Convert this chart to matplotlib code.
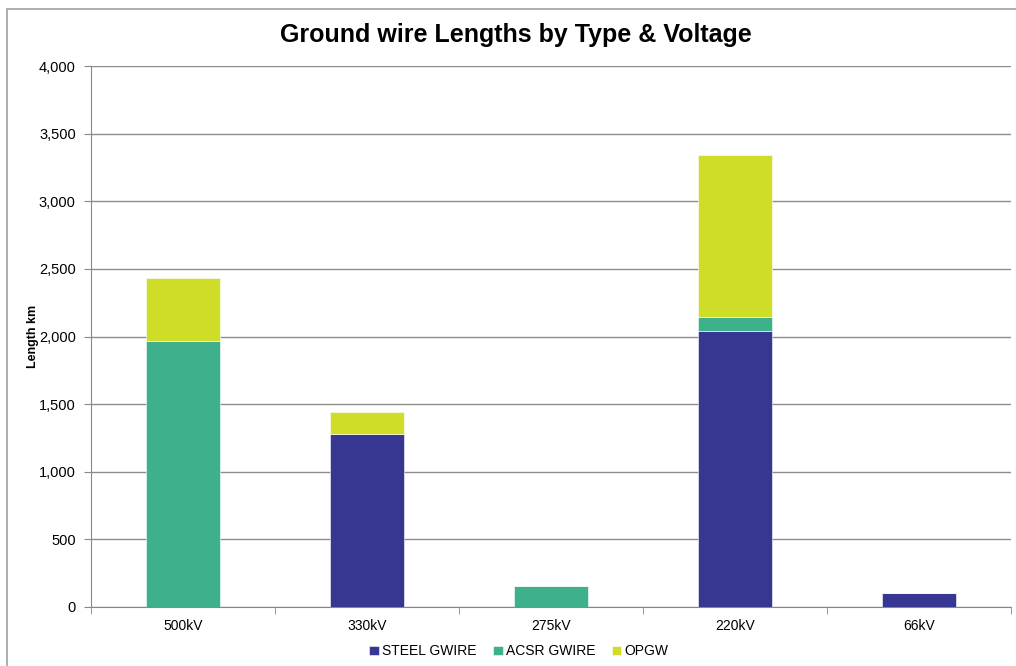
import matplotlib.pyplot as plt
import numpy as np
from matplotlib.patches import Rectangle

plt.rcParams['font.family'] = ['Liberation Sans', 'DejaVu Sans']

# データ
voltages = ["500kV", "330kV", "275kV", "220kV", "66kV"]
steel_gwire = [0, 1277, 0, 2043, 106]
acsr_gwire = [1969, 0, 157, 102, 0]
opgw = [464, 163, 0, 1197, 0]

series_names = ["STEEL GWIRE", "ACSR GWIRE", "OPGW"]
colors = ["#373793", "#3eb08c", "#cfdc28"]

fig = plt.figure(figsize=(10.16, 6.66), dpi=100)
ax = fig.add_axes([91 / 1016, 1 - 607 / 666, 920 / 1016, 541 / 666])

# 外枠
fig.patches.append(Rectangle((7 / 1016, -0.05), 1.1, 1 - 9 / 666 + 0.05,
                             transform=fig.transFigure, fill=False,
                             edgecolor="#a0a0a0", linewidth=1.2))

x = np.arange(len(voltages))
bottom = np.zeros(len(voltages))
for name, vals, c in zip(series_names, [steel_gwire, acsr_gwire, opgw], colors):
    ax.bar(x, vals, width=0.4, bottom=bottom, color=c, label=name,
           edgecolor="white", linewidth=0.4, zorder=3)
    bottom += np.array(vals)

ax.set_xlim(-0.5, len(voltages) - 0.5)
ax.set_ylim(0, 4000)
ax.set_yticks(np.arange(0, 4001, 500))
ax.set_yticklabels([f"{v:,}" for v in range(0, 4001, 500)])
ax.set_xticks(x)
ax.set_xticklabels(voltages)
ax.set_xticks(np.arange(-0.5, len(voltages)), minor=True)
ax.tick_params(axis="x", which="major", length=0, labelsize=10, pad=9)
ax.tick_params(axis="x", which="minor", length=5, color="#888888")
ax.tick_params(axis="y", length=5, color="#888888", labelsize=10.5, pad=6)

ax.grid(axis="y", color="#8c8c8c", linewidth=1.0, zorder=0)
for s in ["top", "right"]:
    ax.spines[s].set_visible(False)
for s in ["left", "bottom"]:
    ax.spines[s].set_color("#888888")

ax.set_ylabel("Length km", fontsize=9, fontweight="bold", labelpad=0)
fig.text(0.508, 1 - 35 / 666, "Ground wire Lengths by Type & Voltage",
         ha="center", va="center", fontsize=18, fontweight="bold")

ax.legend(loc="center", bbox_to_anchor=(0.465, -0.082), ncol=3, frameon=False,
          fontsize=10, handlelength=0.7, handleheight=0.7, handletextpad=0.2,
          columnspacing=1.2)

fig.savefig("out.png", dpi=100)
